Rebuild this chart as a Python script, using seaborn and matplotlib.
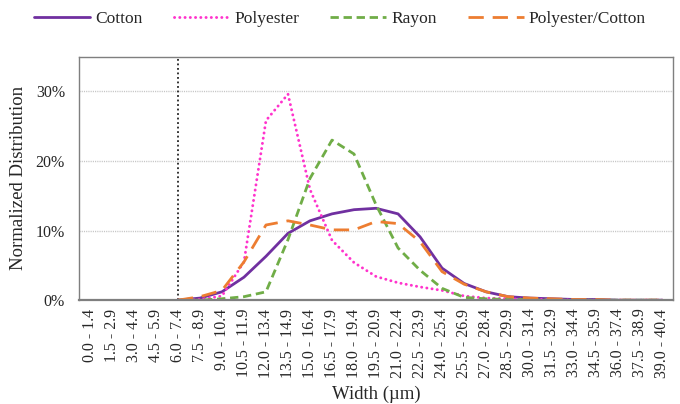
import numpy as np
import pandas as pd
import matplotlib
matplotlib.use("Agg")
import matplotlib.pyplot as plt
import seaborn as sns

# Width bins (µm)
bins = [f"{1.5 * i:.1f} - {1.5 * i + 1.4:.1f}" for i in range(27)]

nan = np.nan
cotton = [nan, nan, nan, nan, 0.0, 0.3, 1.2, 3.3, 6.3, 9.6, 11.4, 12.4, 13.0, 13.2, 12.4,
          9.1, 4.6, 2.4, 1.2, 0.5, 0.3, 0.2, 0.1, 0.1, 0.0, 0.0, 0.0]
polyester = [nan, nan, nan, nan, 0.0, 0.1, 0.6, 5.5, 25.8, 29.6, 15.9, 8.6, 5.4, 3.4, 2.5,
             1.9, 1.4, 0.6, 0.3, 0.2, 0.1, 0.1, 0.0, 0.0, 0.0, 0.0, 0.0]
rayon = [nan, nan, nan, nan, 0.0, 0.0, 0.2, 0.5, 1.2, 8.7, 17.5, 23.0, 21.0, 13.7, 7.5,
         4.3, 1.7, 0.4, 0.2, 0.1, 0.1, 0.0, 0.0, 0.0, 0.0, 0.0, 0.0]
poly_cotton = [nan, nan, nan, nan, 0.0, 0.5, 1.4, 5.5, 10.8, 11.4, 10.8, 10.1, 10.1, 11.3, 11.0,
               8.4, 4.1, 2.3, 1.2, 0.5, 0.3, 0.2, 0.1, 0.1, 0.0, 0.0, 0.0]

series = {
    "Cotton": cotton,
    "Polyester": polyester,
    "Rayon": rayon,
    "Polyester/Cotton": poly_cotton,
}
colors = {
    "Cotton": "#7030A0",
    "Polyester": "#FF33CC",
    "Rayon": "#70AD47",
    "Polyester/Cotton": "#ED7D31",
}
dashes = {
    "Cotton": "",
    "Polyester": (0.05, 1.75),
    "Rayon": (3.0, 1.7),
    "Polyester/Cotton": (5.5, 3.2),
}

rows = []
for name, vals in series.items():
    for i, v in enumerate(vals):
        rows.append({"idx": i, "Fiber": name, "value": v})
df = pd.DataFrame(rows).dropna()

sns.set_theme(style="white")
plt.rcParams["font.family"] = ["Liberation Serif", "DejaVu Serif"]

fig = plt.figure(figsize=(6.8, 4.04), dpi=100)
ax = fig.add_axes([0.116, 0.257, 0.874, 0.603])

sns.lineplot(data=df, x="idx", y="value", hue="Fiber", style="Fiber",
             palette=colors, dashes=dashes, linewidth=2.0, ax=ax,
             hue_order=list(series), style_order=list(series))

# round dots for the dotted series
for line in ax.get_lines():
    if line.get_color() == colors["Polyester"]:
        line.set_dash_capstyle("round")
        line.set_linewidth(2.1)

ax.set_xlim(-0.5, 26.5)
ax.set_ylim(0, 35)
ax.set_yticks([0, 10, 20, 30])
ax.set_yticklabels(["0%", "10%", "20%", "30%"], fontsize=11.5)
ax.set_xticks(range(len(bins)))
ax.set_xticklabels(bins, rotation=90, fontsize=11.5)
ax.tick_params(axis="x", length=0, pad=6)
ax.tick_params(axis="y", length=0, pad=10)

for y in [10, 20, 30]:
    ax.axhline(y, color="#c4c4c4", linestyle=(0, (0.8, 0.8)), linewidth=1.0, zorder=0)
ax.axvline(4, color="#222222", linestyle=(0, (1, 1.5)), linewidth=1.3, zorder=1)

for side in ["left", "right", "top"]:
    ax.spines[side].set_color("#7f7f7f")
    ax.spines[side].set_linewidth(1.0)
ax.spines["bottom"].set_color("#7f7f7f")
ax.spines["bottom"].set_linewidth(1.6)

ax.set_xlabel("Width (µm)", fontsize=13.5, labelpad=6)
ax.set_ylabel("Normalized Distribution", fontsize=13.5, labelpad=6)

handles, labels = ax.get_legend_handles_labels()
for h in handles:
    if h.get_label() == "Polyester":
        h.set_dash_capstyle("round")
        h.set_linewidth(2.1)
ax.legend(handles, labels, loc="center", ncol=4, frameon=False,
          fontsize=12.5, handlelength=3.2, columnspacing=1.8, handletextpad=0.3)
leg = ax.get_legend()
leg.set_bbox_to_anchor((0.5, 1 - 19 / 404), transform=fig.transFigure)

fig.savefig("out.png", dpi=100)
